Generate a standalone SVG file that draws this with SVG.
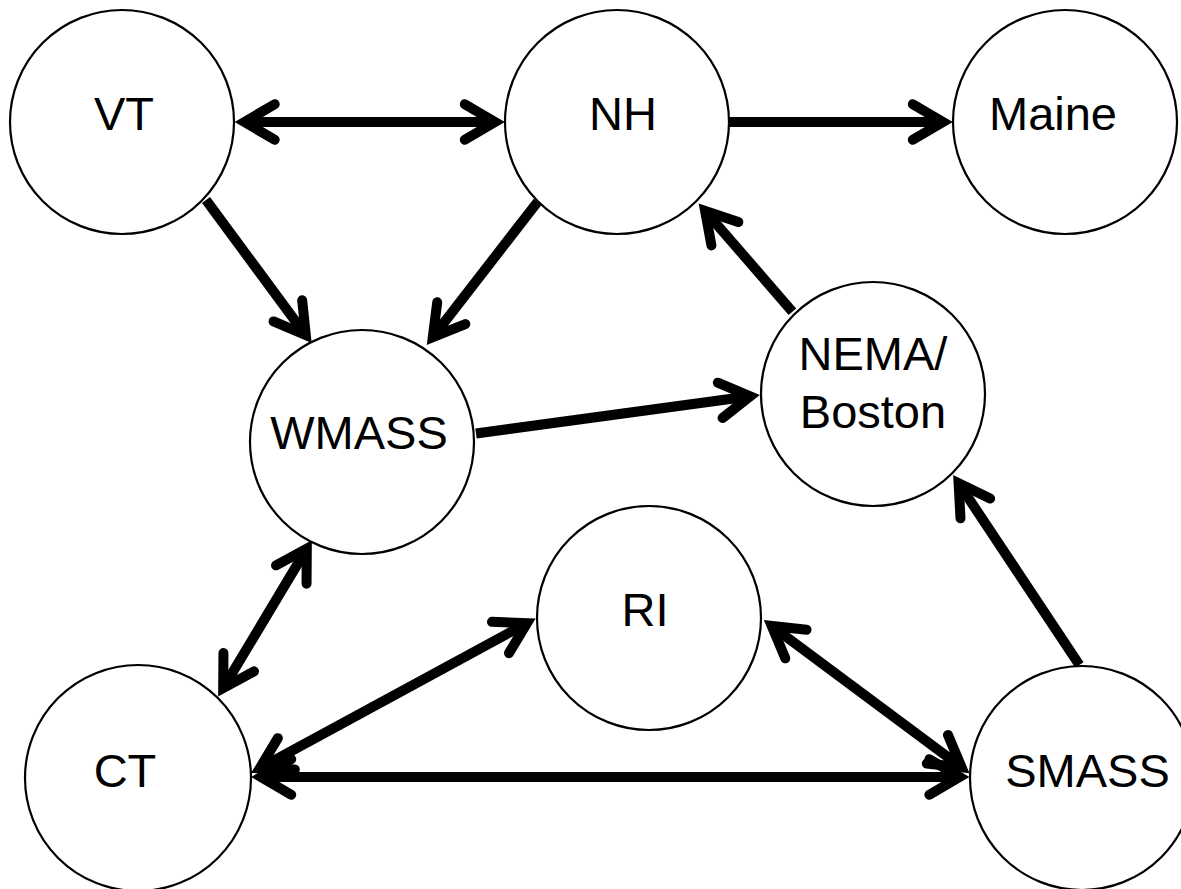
<svg xmlns="http://www.w3.org/2000/svg" width="1181" height="889" viewBox="0 0 1181 889">
<defs>
<style>
.node circle{fill:#fff;stroke:#000;stroke-width:2.2}
.node text{font-family:"Liberation Sans",Arial,sans-serif;font-size:47px;fill:#000;text-anchor:middle}
.edge{fill:none;stroke:#000;stroke-width:10;stroke-linecap:butt}
</style>
<marker id="ah" markerUnits="userSpaceOnUse" markerWidth="80" markerHeight="80" refX="0" refY="0" viewBox="-40 -40 80 80" orient="auto-start-reverse" overflow="visible">
<path d="M-30.2,-17.8 L0,0 L-30.2,17.8" fill="none" stroke="#000" stroke-width="10" stroke-linecap="round" stroke-linejoin="miter" stroke-miterlimit="6"/>
</marker>
</defs>
<rect width="1181" height="889" fill="#fff"/>
<g id="connectors">
<path class="edge" d="M244.5,122 L495,122" marker-start="url(#ah)" marker-end="url(#ah)"/>
<path class="edge" d="M729,122 L943,122" marker-end="url(#ah)"/>
<path class="edge" d="M206,200 L305.8,335.2" marker-end="url(#ah)"/>
<path class="edge" d="M537.7,201.7 L432.8,337.1" marker-end="url(#ah)"/>
<path class="edge" d="M476,433.5 L750.1,396.3" marker-end="url(#ah)"/>
<path class="edge" d="M792.4,311.7 L705.1,210.9" marker-end="url(#ah)"/>
<path class="edge" d="M1079.4,665 L958.6,483.3" marker-end="url(#ah)"/>
<path class="edge" d="M771.7,626 L961.6,767.3" marker-start="url(#ah)" marker-end="url(#ah)"/>
<path class="edge" d="M261,777 L959.6,777" marker-start="url(#ah)" marker-end="url(#ah)"/>
<path class="edge" d="M259.8,768.2 L527,623.1" marker-start="url(#ah)" marker-end="url(#ah)"/>
<path class="edge" d="M306.8,548.6 L223.2,688.1" marker-start="url(#ah)" marker-end="url(#ah)"/>
</g>
<g id="VT" class="node"><circle cx="122" cy="122" r="112"/><text x="124" y="130">VT</text></g>
<g id="NH" class="node"><circle cx="617" cy="122" r="112"/><text x="623" y="130">NH</text></g>
<g id="Maine" class="node"><circle cx="1065" cy="122" r="112"/><text x="1053" y="130">Maine</text></g>
<g id="WMASS" class="node"><circle cx="362" cy="442" r="112"/><text x="359" y="449">WMASS</text></g>
<g id="NEMA" class="node"><circle cx="873" cy="394" r="112"/><text x="873" y="370">NEMA/</text><text x="873" y="428">Boston</text></g>
<g id="RI" class="node"><circle cx="649" cy="618" r="112"/><text x="645" y="626">RI</text></g>
<g id="CT" class="node"><circle cx="138" cy="778" r="113"/><text x="125" y="787">CT</text></g>
<g id="SMASS" class="node"><circle cx="1082" cy="778" r="112"/><text x="1087.5" y="787">SMASS</text></g>
</svg>
